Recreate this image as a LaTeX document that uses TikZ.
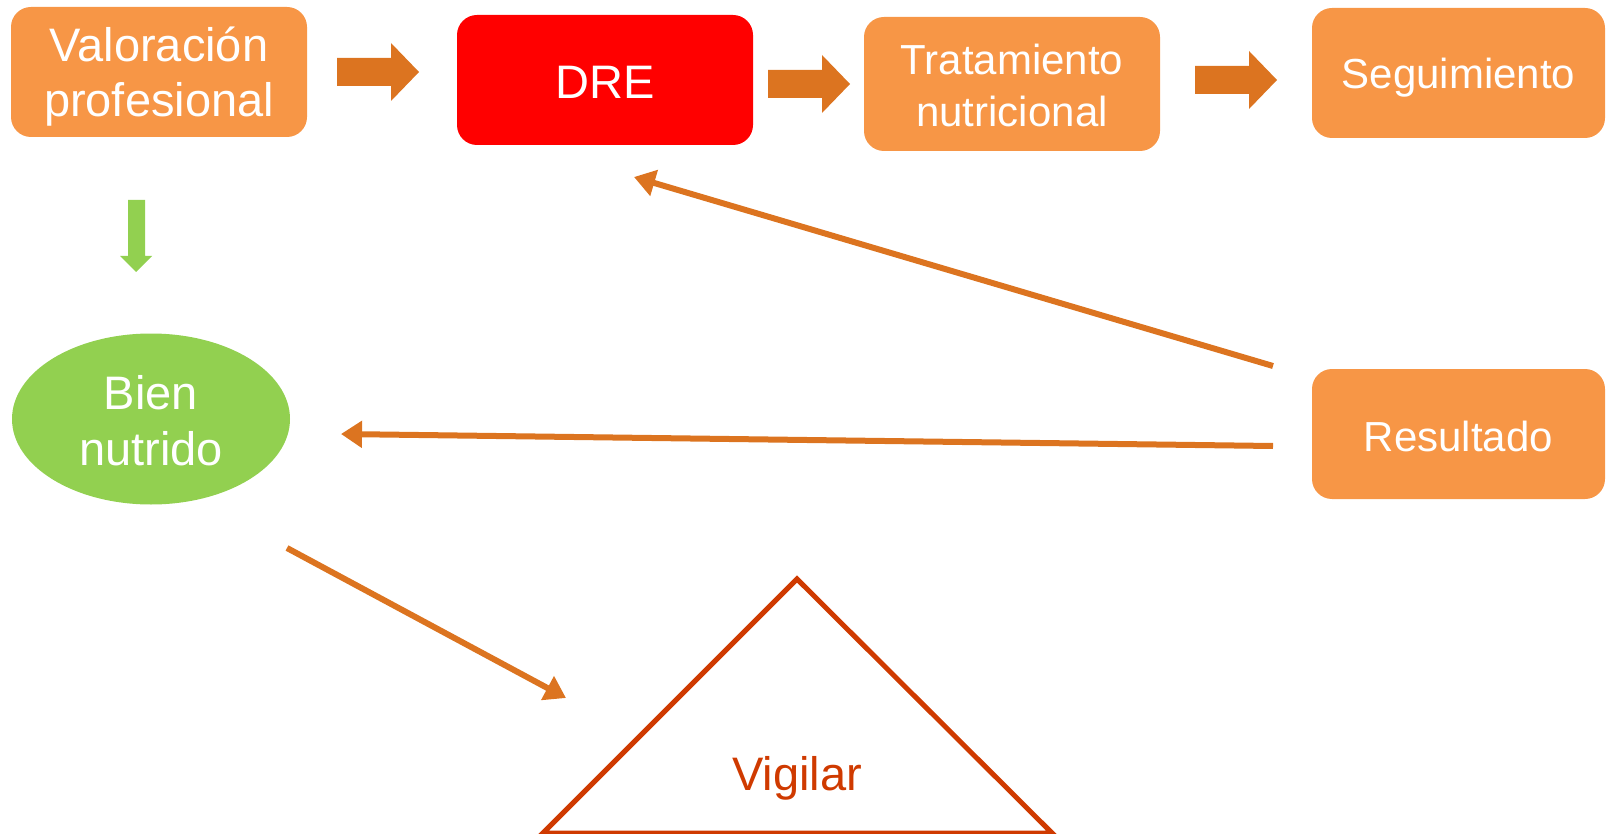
\documentclass[tikz,border=0pt]{standalone}
\usepackage{fontspec}
\setmainfont{Liberation Sans}
\usetikzlibrary{calc,arrows.meta,shapes.geometric}
\definecolor{boxorange}{HTML}{F79646}
\definecolor{arroworange}{HTML}{DC7420}
\definecolor{leafgreen}{HTML}{92D050}
\definecolor{alertred}{HTML}{FF0000}
\definecolor{rust}{HTML}{CF3A00}
\tikzset{
  stepbox/.style={rectangle, rounded corners=20pt, fill=boxorange, text=white, inner sep=0pt, text depth=0pt},
  thinarrow/.style={draw=arroworange, line width=6pt, -{Triangle[length=21pt,width=26pt]}},
  barrow/.style={fill=arroworange},
}
\def\blockarrow(#1){\fill[barrow] ($(#1)+(-41,-14)$) -- ++(54,0) -- ++(0,-15) -- ++(28,29) -- ++(-28,29) -- ++(0,-15) -- ++(-54,0) -- cycle;}
\newcommand{\twolines}[2]{\begin{tabular}[b]{@{}c@{}}#1\\#2\end{tabular}}

\begin{document}
\begin{tikzpicture}[x=1pt,y=-1pt]
			%%%%% START %%%%%
			\useasboundingbox (0,0) rectangle (1606,834);
			
			\node[stepbox, minimum width=296pt, minimum height=130pt, text height=90pt, font=\fontsize{47}{55.6}\selectfont] (val) at (159,72) {\twolines{Valoración}{profesional}};
			\node[stepbox, fill=alertred, minimum width=296pt, minimum height=130pt, text height=38pt, font=\fontsize{47}{55}\selectfont] (dre) at (605,80) {DRE};
			\node[stepbox, minimum width=296pt, minimum height=134pt, text height=86pt, font=\fontsize{42}{52}\selectfont] (trat) at (1012,84) {\twolines{Tratamiento}{nutricional}};
			\node[stepbox, minimum width=293pt, minimum height=130pt, text height=32pt, font=\fontsize{42}{50}\selectfont] (seg) at (1458.5,73) {Seguimiento};
			\node[stepbox, minimum width=293pt, minimum height=130pt, text height=34pt, font=\fontsize{42}{50}\selectfont] (res) at (1458.5,434) {Resultado};
			
			\node[ellipse, fill=leafgreen, text=white, inner sep=0pt, minimum width=278pt, minimum height=171pt, text height=92pt, text depth=0pt, font=\fontsize{47}{56}\selectfont] (bien) at (151,419) {\twolines{Bien}{nutrido}};
			
			%% block arrows
			\coordinate (a1) at (378,72);
			\coordinate (a2) at (809,84);
			\coordinate (a3) at (1236,80);
			\blockarrow(a1)
			\blockarrow(a2)
			\blockarrow(a3)
			
			\fill[leafgreen] (128,200) -- (145,200) -- (145,256) -- (152,256) -- (136,272) -- (120,256) -- (128,256) -- cycle;
			
			%% thin arrows
			\coordinate (r1) at (1273,366);
			\coordinate (d1) at (634,177);
			\coordinate (r2) at (1273,446);
			\coordinate (b1) at (341,434);
			\coordinate (b2) at (287,548);
			\coordinate (v1) at (566,698);
			\draw[thinarrow] (r1) -- (d1);
			\draw[thinarrow] (r2) -- (b1);
			\draw[thinarrow] (b2) -- (v1);
			
			%% triangle
			\coordinate (apex) at (797,579);
			\coordinate (tl) at (543,833);
			\coordinate (tr) at (1052,833);
			\draw[rust, line width=5pt, line join=miter] (apex) -- (tr) -- (tl) -- cycle;
			\node[text=rust, anchor=base, inner sep=0pt, font=\fontsize{47}{55}\selectfont] (vig) at (797,790) {Vigilar};
			
			%%%%% END %%%%%
\end{tikzpicture}
\end{document}
